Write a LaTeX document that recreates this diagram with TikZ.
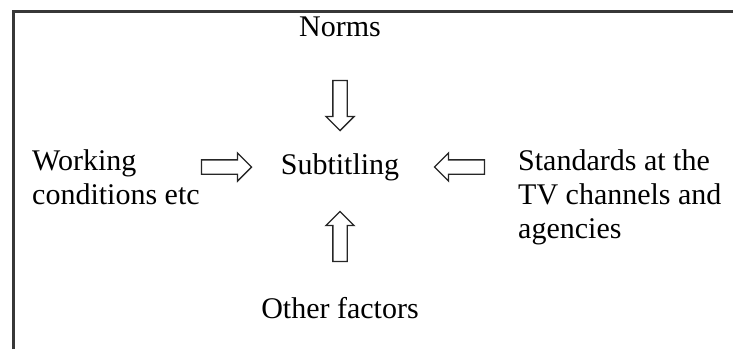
\documentclass[tikz,border=0pt]{standalone}
\usepackage{fontspec}
\setmainfont{Liberation Serif}
\usetikzlibrary{positioning}
\usetikzlibrary{shapes.arrows}

\begin{document}
\begin{tikzpicture}[x=1pt,y=-1pt,on grid,
        every node/.style={font=\fontsize{30}{34}\selectfont},
        fat/.style={single arrow,draw=black!85,line width=1.3pt,
            inner xsep=0pt,inner ysep=6.5pt,minimum height=50pt,
            single arrow head extend=7pt,single arrow head indent=0pt},
        fatv/.style={fat,inner xsep=6.5pt,inner ysep=0pt}]
        \useasboundingbox (0,0) rectangle (733,349);
        \draw[line width=3pt,black!78] (13,349) -- (13,11) -- (733,11);
        \node (sub) at (340,167) {Subtitling};
        \node (norms) [above=140pt of sub] {Norms};
        \node (other) [below=141pt of sub] {Other factors};
        \node[fatv,shape border rotate=270] (da) [above=65pt of sub] {};
        \node[fatv,shape border rotate=90] (ua) [below=73pt of sub] {};
        \node[fat] (ra) [left=117pt of sub] {};
        \node[fat,shape border rotate=180] (la) [right=123pt of sub] {};
        \node[align=left,anchor=north west,inner sep=0pt] (work) at (32,149)
                {Working\\conditions etc};
        \node[align=left,anchor=north west,inner sep=0pt] (std) at (518,149)
                {Standards at the\\TV channels and\\agencies};
    \end{tikzpicture}
\end{document}
